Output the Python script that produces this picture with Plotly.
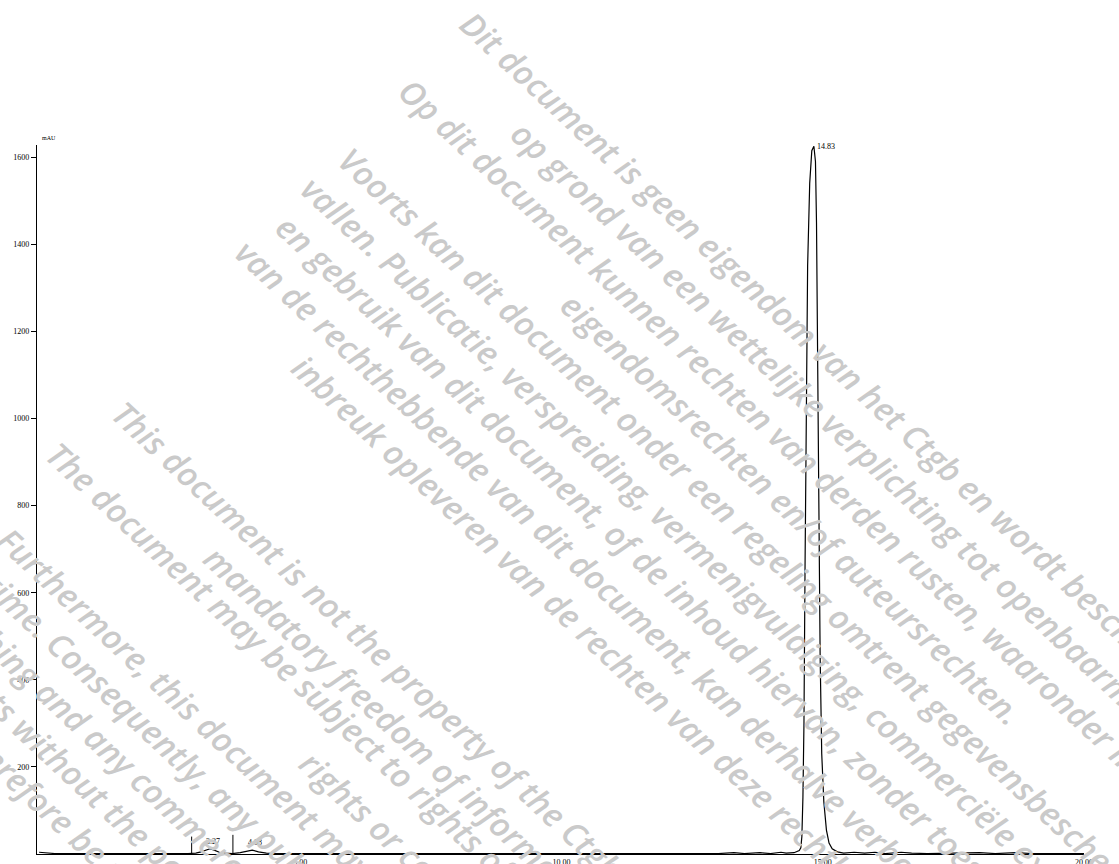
import math
import plotly.graph_objects as go

# ---------------- chromatogram (retention time in min, signal in mAU) ----------------
time_min = [0.00, 0.15, 0.30, 1.00, 1.50, 2.00, 2.50, 2.85, 3.00, 3.10, 3.20, 3.27, 3.35,
            3.45, 3.55, 3.70, 3.85, 3.95, 4.08, 4.20, 4.35, 4.50, 5.00, 6.00, 7.00, 8.00,
            9.00, 10.00, 11.00, 12.00, 13.00, 13.30, 13.50, 13.80, 14.00, 14.20, 14.30,
            14.45, 14.55, 14.58, 14.60, 14.62, 14.64, 14.66, 14.68, 14.71, 14.75, 14.79,
            14.83, 14.86, 14.88, 14.90, 14.92, 14.95, 14.98, 15.02, 15.07, 15.12, 15.18,
            15.28, 15.40, 15.60, 15.80, 16.00, 16.20, 16.50, 16.70, 17.00, 18.00, 18.30,
            18.70, 19.00, 19.50, 20.00]
signal_mau = [4, 2, 1, 1, 0.5, 1, 1, 1, 2, 5, 10, 12, 9,
              4, 2, 1, 3, 6, 9, 5, 2, 1, 1, 1, 0.5, 1,
              0.5, 1, 1, 0.5, 1, 3, 1, 3, 1, 4, 2,
              3, 8, 14, 40, 130, 300, 650, 1000, 1350, 1540, 1615,
              1625, 1590, 1450, 1150, 800, 450, 230, 120, 55, 25, 12,
              5, 2, 4, 2, 4, 1, 4, 2, 1, 3, 1,
              3, 1, 1, 1]

# integration event markers
event_times = [2.92, 3.71]
event_heights = [40, 44]

# labelled peaks
peak_times = [3.27, 4.08, 14.83]
peak_labels = ["3.27", "4.08", "14.83"]
peak_heights = [12, 9, 1625]

y_ticks = [200, 400, 600, 800, 1000, 1200, 1400, 1600]
x_ticks = [5, 10, 15, 20]
x_tick_text = ["5.00", "10.00", "15.00", "20.00"]

# ---------------- page geometry ----------------
W, H = 1119, 864
ML, MR, MT, MB = 37, 35, 145, 10
PW = W - ML - MR
PH = H - MT - MB

fig = go.Figure()

fig.add_trace(go.Scatter(
    x=time_min, y=signal_mau, mode="lines",
    line=dict(color="black", width=1.2), hoverinfo="skip", showlegend=False))

ev_x, ev_y = [], []
for t, h in zip(event_times, event_heights):
    ev_x += [t, t, None]
    ev_y += [0, h, None]
fig.add_trace(go.Scatter(
    x=ev_x, y=ev_y, mode="lines",
    line=dict(color="black", width=1), hoverinfo="skip", showlegend=False))

label_font = dict(family="Liberation Serif", size=8, color="black")
for t, lab, h in zip(peak_times, peak_labels, peak_heights):
    if h > 1000:
        fig.add_annotation(x=t, y=h, text=lab, showarrow=False, xanchor="left",
                           yanchor="middle", xshift=1, font=label_font)
    else:
        fig.add_annotation(x=t, y=h, text=lab, showarrow=False, xanchor="center",
                           yanchor="bottom", xshift=3, yshift=1, font=label_font)

fig.add_annotation(x=0, y=1, xref="paper", yref="paper", text="mAU", showarrow=False,
                   xanchor="left", yanchor="bottom", xshift=3, yshift=2,
                   font=dict(family="Liberation Serif", size=6, color="black"))

# ---------------- diagonal disclaimer text ----------------
ANGLE = 43
FS = 33
th = math.radians(ANGLE)
tvx, tvy = math.cos(th), math.sin(th)
nvx, nvy = -math.sin(th), math.cos(th)
BOX_H = 1.362 * FS

dutch_lines = [
    "Dit document is geen eigendom van het Ctgb en wordt beschikbaar gesteld",
    "op grond van een wettelijke verplichting tot openbaarmaking.",
    "Op dit document kunnen rechten van derden rusten, waaronder intellectuele",
    "eigendomsrechten en/of auteursrechten.",
    "Voorts kan dit document onder een regeling omtrent gegevensbescherming",
    "vallen. Publicatie, verspreiding, vermenigvuldiging, commerciële exploitatie",
    "en gebruik van dit document, of de inhoud hiervan, zonder toestemming",
    "van de rechthebbende van dit document, kan derhalve verboden zijn en een",
    "inbreuk opleveren van de rechten van deze rechthebbende.",
]
dutch_starts = [350.6, 462.7, 351.7, 615.8, 355.1, 346.9, 355.2, 342.4, 462.4]
dutch_offsets = [0, 0, 0, 0, 0, 0, 0, 0, 0]
dutch_n0, dutch_step = -327.5, 45.8

english_lines = [
    "This document is not the property of the Ctgb and is made available on the basis of a",
    "mandatory freedom of information request.",
    "The document may be subject to rights of third parties, including intellectual property",
    "rights or copyrights.",
    "Furthermore, this document may be subject to a data protection",
    "regime. Consequently, any publication, distribution, reproduction and/or",
    "publishing and any commercial exploitation and use of this document or",
    "its contents without the permission of the owner of these rights may",
    "therefore be prohibited and constitute an infringement of those rights.",
]
english_starts = [362, 528, 342, 738, 365, 350, 330, 321, 472]
english_offsets = [0, 0, -10, 0, 0, 0, 0, 0, 0]
english_n0, english_step = 195.4, 42.5


def add_disclaimer(lines, starts, offsets, n0, step):
    for k, (txt, t0, dn) in enumerate(zip(lines, starts, offsets)):
        n = n0 + step * k + dn
        px = t0 * tvx + n * nvx
        py = t0 * tvy + n * nvy
        left = px - BOX_H * math.sin(th)
        top = py
        fig.add_annotation(
            text=txt, xref="paper", yref="paper",
            x=(left - ML) / PW, y=(H - MB - top) / PH,
            xanchor="left", yanchor="top", textangle=ANGLE,
            showarrow=False, borderpad=0,
            font=dict(family="Open Sans", size=FS, color="#cacaca",
                      style="italic", weight=600))


add_disclaimer(dutch_lines, dutch_starts, dutch_offsets, dutch_n0, dutch_step)
add_disclaimer(english_lines, english_starts, english_offsets, english_n0, english_step)

fig.update_xaxes(range=[-0.04, 20.0], showgrid=False, zeroline=False,
                 showline=True, linecolor="black", linewidth=1.3,
                 tickvals=x_ticks, ticktext=x_tick_text, ticks="",
                 automargin=False,
                 tickfont=dict(family="Liberation Serif", size=8, color="black"))
fig.update_yaxes(range=[0, 1628], showgrid=False, zeroline=False,
                 showline=True, linecolor="black", linewidth=1.3,
                 tickvals=y_ticks, ticks="outside", ticklen=5, tickcolor="black",
                 tickwidth=1, automargin=False,
                 tickfont=dict(family="Liberation Serif", size=8, color="black"))

fig.update_layout(width=W, height=H, margin=dict(l=ML, r=MR, t=MT, b=MB),
                  paper_bgcolor="white", plot_bgcolor="white", showlegend=False)

fig.write_html("out.html")
